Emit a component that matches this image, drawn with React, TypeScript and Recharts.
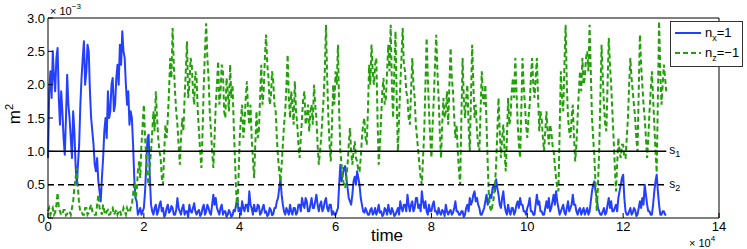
import { Legend, Line, LineChart, ReferenceLine, XAxis, YAxis } from "recharts";

// sample spacing of the time axis, in units of 10^4
const timeStep = 0.025;

// m^2 for n_x = 1, in units of 10^-3, one row per 10^4 of time
const nxValues = [
  0.9, 1.9, 2.2, 1.8, 2.5, 2.1, 1.9, 2.4, 2.55, 1.8, 1.4, 1.9, 1.6, 1.2, 0.95, 1.5, 2.15, 1.7, 1.5, 1.2, 0.9, 1.6, 1.3, 0.8, 0.5, 0.8, 1.1, 1.7, 2.1, 2.4, 2.65, 2.0, 2.2, 2.6, 2.5, 1.9, 1.5, 1.3, 1.1, 0.8,
  0.7, 0.9, 0.55, 0.4, 0.25, 0.6, 0.9, 1.3, 1.5, 1.2, 1.9, 1.5, 1.6, 2.0, 2.1, 1.6, 1.7, 2.1, 2.3, 2.0, 2.6, 2.3, 2.8, 2.5, 2.4, 2.0, 1.7, 1.9, 1.4, 1.6, 1.5, 1.1, 0.6, 0.3, 0.25, 0.05, 0.1, 0.15, 0.05, 0.1,
  0.15, 0.4, 0.8, 1.2, 1.25, 0.6, 0.2, 0.1, 0.05, 0.15, 0.2, 0.05, 0.1, 0.2, 0.25, 0.1, 0.15, 0.02, 0.05, 0.15, 0.2, 0.08, 0.1, 0.18, 0.15, 0.05, 0.05, 0.12, 0.3, 0.15, 0.1, 0.05, 0.15, 0.2, 0.05, 0.1, 0.1, 0.02, 0.2, 0.1,
  0.08, 0.15, 0.22, 0.1, 0.05, 0.1, 0.12, 0.03, 0.06, 0.15, 0.2, 0.05, 0.1, 0.2, 0.15, 0.08, 0.05, 0.2, 0.35, 0.2, 0.3, 0.15, 0.1, 0.05, 0.15, 0.2, 0.05, 0.1, 0.1, 0.02, 0.05, 0.12, 0.08, 0.02, 0.04, 0.12, 0.1, 0.2, 0.3, 0.1,
  0.15, 0.05, 0.25, 0.15, 0.1, 0.2, 0.2, 0.1, 0.4, 0.2, 0.15, 0.05, 0.2, 0.1, 0.1, 0.2, 0.18, 0.05, 0.08, 0.15, 0.2, 0.08, 0.1, 0.03, 0.05, 0.15, 0.12, 0.04, 0.06, 0.15, 0.15, 0.25, 0.3, 0.45, 0.58, 0.35, 0.2, 0.1, 0.05, 0.15,
  0.1, 0.05, 0.2, 0.1, 0.05, 0.15, 0.15, 0.05, 0.08, 0.2, 0.2, 0.1, 0.3, 0.2, 0.15, 0.3, 0.25, 0.1, 0.1, 0.2, 0.3, 0.15, 0.15, 0.25, 0.35, 0.2, 0.1, 0.2, 0.25, 0.1, 0.15, 0.25, 0.3, 0.15, 0.1, 0.2, 0.2, 0.05, 0.1, 0.05,
  0.05, 0.1, 0.15, 0.5, 0.8, 0.55, 0.65, 0.75, 0.78, 0.6, 0.45, 0.3, 0.25, 0.2, 0.35, 0.55, 0.62, 0.5, 0.7, 0.6, 0.5, 0.3, 0.2, 0.1, 0.08, 0.15, 0.1, 0.05, 0.05, 0.12, 0.15, 0.05, 0.08, 0.15, 0.05, 0.1, 0.2, 0.08, 0.1, 0.03,
  0.05, 0.15, 0.12, 0.05, 0.2, 0.1, 0.06, 0.15, 0.1, 0.03, 0.05, 0.1, 0.15, 0.05, 0.25, 0.15, 0.1, 0.2, 0.2, 0.1, 0.35, 0.2, 0.1, 0.2, 0.25, 0.1, 0.15, 0.3, 0.3, 0.15, 0.2, 0.1, 0.4, 0.25, 0.15, 0.25, 0.1, 0.05, 0.2, 0.1,
  0.1, 0.2, 0.25, 0.1, 0.1, 0.05, 0.15, 0.08, 0.05, 0.12, 0.1, 0.03, 0.2, 0.1, 0.05, 0.1, 0.12, 0.05, 0.08, 0.15, 0.25, 0.1, 0.1, 0.05, 0.05, 0.1, 0.1, 0.02, 0.05, 0.15, 0.2, 0.1, 0.3, 0.2, 0.25, 0.35, 0.4, 0.25, 0.3, 0.2,
  0.15, 0.05, 0.05, 0.1, 0.15, 0.25, 0.35, 0.2, 0.25, 0.35, 0.3, 0.45, 0.5, 0.4, 0.58, 0.45, 0.35, 0.2, 0.15, 0.3, 0.4, 0.2, 0.1, 0.05, 0.2, 0.1, 0.05, 0.15, 0.15, 0.05, 0.1, 0.2, 0.25, 0.15, 0.3, 0.2, 0.2, 0.1, 0.1, 0.05,
  0.15, 0.2, 0.3, 0.1, 0.1, 0.05, 0.05, 0.2, 0.35, 0.2, 0.25, 0.1, 0.1, 0.05, 0.05, 0.15, 0.25, 0.15, 0.3, 0.1, 0.15, 0.25, 0.35, 0.2, 0.4, 0.25, 0.15, 0.05, 0.1, 0.15, 0.2, 0.08, 0.05, 0.15, 0.25, 0.1, 0.15, 0.2, 0.35, 0.2,
  0.2, 0.1, 0.05, 0.12, 0.15, 0.05, 0.1, 0.15, 0.05, 0.1, 0.15, 0.05, 0.1, 0.25, 0.4, 0.5, 0.55, 0.4, 0.3, 0.15, 0.1, 0.05, 0.05, 0.1, 0.15, 0.05, 0.08, 0.2, 0.3, 0.15, 0.25, 0.1, 0.1, 0.15, 0.2, 0.1, 0.3, 0.4, 0.5, 0.6,
  0.65, 0.3, 0.1, 0.05, 0.05, 0.1, 0.15, 0.05, 0.08, 0.15, 0.12, 0.03, 0.05, 0.15, 0.25, 0.15, 0.3, 0.2, 0.5, 0.35, 0.2, 0.1, 0.1, 0.05, 0.05, 0.2, 0.4, 0.55, 0.65, 0.4, 0.2, 0.05, 0.05, 0.1, 0.1, 0.05, 0.05
];

// m^2 for n_z = -1, in units of 10^-3
const nzValues = [
  0.1, 0.15, 0.05, 0.1, 0.15, 0.05, 0.08, 0.2, 0.38, 0.15, 0.1, 0.05, 0.05, 0.12, 0.12, 0.04, 0.06, 0.1, 0.1, 0.05, 0.15, 0.25, 0.45, 0.6, 0.75, 0.45, 0.2, 0.1, 0.1, 0.05, 0.05, 0.15, 0.15, 0.05, 0.08, 0.15, 0.2, 0.1, 0.1, 0.05,
  0.05, 0.2, 0.35, 0.15, 0.1, 0.05, 0.2, 0.1, 0.05, 0.1, 0.12, 0.05, 0.06, 0.12, 0.15, 0.05, 0.08, 0.12, 0.05, 0.1, 0.12, 0.05, 0.06, 0.15, 0.1, 0.05, 0.15, 0.1, 0.08, 0.15, 0.2, 0.35, 0.55, 0.3, 0.4, 0.7, 0.85, 0.6, 1.1, 1.4,
  1.7, 1.2, 0.9, 0.6, 0.5, 0.8, 1.0, 1.3, 1.6, 1.3, 1.9, 1.5, 1.2, 1.0, 0.9, 0.6, 0.5, 1.0, 1.4, 1.2, 1.5, 1.9, 2.4, 2.1, 2.85, 2.3, 1.9, 1.6, 1.4, 1.1, 0.8, 1.2, 1.5, 1.3, 1.8, 2.2, 2.65, 1.8, 2.0, 2.4,
  2.3, 1.9, 1.7, 2.2, 2.1, 1.6, 1.3, 1.0, 0.75, 1.3, 2.0, 2.5, 2.92, 2.4, 2.1, 1.6, 1.3, 1.0, 0.75, 1.2, 1.7, 2.0, 2.35, 1.7, 1.9, 2.3, 2.2, 1.6, 1.5, 2.1, 1.9, 1.6, 2.3, 1.8, 2.0, 1.4, 0.9, 0.4, 0.15, 0.6,
  1.2, 1.5, 1.7, 1.2, 1.4, 1.8, 2.05, 1.6, 1.4, 1.7, 1.2, 0.9, 0.6, 1.1, 1.6, 1.2, 1.3, 1.8, 2.3, 1.7, 1.9, 2.4, 2.75, 2.3, 2.1, 1.7, 1.8, 2.2, 2.05, 1.7, 1.6, 1.2, 0.9, 0.7, 0.55, 0.8, 1.1, 1.4, 1.6, 2.0,
  2.45, 1.8, 1.5, 1.9, 1.7, 1.4, 2.05, 1.6, 1.4, 1.1, 0.9, 1.2, 1.5, 1.8, 1.9, 1.4, 1.5, 1.7, 1.3, 1.6, 1.7, 1.4, 2.0, 1.7, 1.5, 1.1, 0.8, 1.0, 1.2, 1.5, 1.8, 2.2, 2.9, 2.1, 1.5, 1.1, 0.85, 1.4, 2.0, 1.7,
  2.2, 2.0, 2.6, 1.6, 1.0, 0.8, 0.6, 0.5, 0.45, 0.6, 0.8, 1.1, 1.35, 1.0, 0.8, 1.0, 1.15, 0.9, 0.85, 0.7, 0.7, 0.9, 1.2, 1.4, 1.5, 1.2, 1.1, 1.6, 2.3, 2.0, 2.6, 2.2, 2.0, 2.3, 2.4, 1.5, 0.8, 1.1, 1.5, 1.9,
  2.1, 1.7, 1.8, 2.2, 2.6, 2.2, 2.9, 2.0, 1.5, 2.2, 2.8, 1.8, 1.0, 1.5, 2.0, 2.4, 2.85, 2.3, 2.2, 1.9, 1.8, 1.5, 1.4, 1.9, 2.4, 2.0, 1.8, 1.4, 1.2, 1.0, 0.8, 0.6, 0.5, 0.9, 1.3, 2.0, 2.7, 2.1, 1.6, 1.2,
  0.9, 1.4, 1.8, 2.3, 2.75, 2.2, 1.8, 1.3, 0.9, 1.4, 1.8, 1.5, 1.6, 1.9, 1.4, 2.0, 2.55, 2.1, 1.9, 1.5, 1.2, 1.4, 1.0, 0.7, 0.5, 1.5, 2.4, 1.8, 1.5, 1.8, 2.0, 1.4, 1.0, 1.8, 2.6, 2.0, 1.5, 1.7, 1.3, 1.1,
  1.0, 1.6, 2.2, 1.8, 1.7, 2.0, 1.4, 0.8, 0.3, 0.15, 0.1, 0.2, 0.3, 0.5, 0.8, 1.3, 1.8, 1.3, 0.9, 1.2, 1.4, 1.0, 0.7, 1.2, 1.8, 1.4, 1.5, 1.9, 2.1, 1.8, 2.4, 1.9, 1.4, 1.1, 0.9, 1.6, 2.4, 2.0, 1.7, 1.4,
  1.2, 1.5, 1.7, 2.1, 2.4, 2.0, 1.8, 2.1, 2.4, 1.8, 1.3, 1.6, 1.5, 1.2, 1.0, 1.3, 1.6, 1.3, 1.1, 1.4, 1.3, 1.1, 1.0, 0.8, 0.6, 0.45, 0.4, 1.3, 2.2, 1.8, 1.6, 2.3, 2.9, 2.0, 1.5, 1.3, 1.2, 1.5, 1.7, 1.2,
  0.85, 1.1, 1.5, 1.9, 2.2, 1.9, 2.4, 2.0, 2.1, 2.4, 2.5, 2.2, 2.9, 2.2, 1.5, 1.2, 0.9, 0.5, 0.1, 0.5, 1.0, 1.8, 2.6, 2.1, 1.7, 1.4, 1.3, 2.0, 2.7, 2.3, 2.0, 1.6, 1.2, 0.8, 0.4, 0.8, 1.2, 1.0, 0.9, 1.1,
  1.1, 0.9, 0.9, 1.2, 1.5, 2.0, 2.4, 2.1, 1.9, 1.7, 1.5, 1.2, 1.0, 1.9, 2.75, 2.3, 2.0, 1.7, 1.5, 1.2, 0.9, 1.2, 1.6, 1.9, 2.2, 1.8, 1.4, 1.0, 0.68, 1.8, 2.95, 2.2, 1.7, 2.0, 2.3, 2.1, 1.9
];

const xTicks = [0, 2, 4, 6, 8, 10, 12, 14];
const yTicks = [0, 0.5, 1, 1.5, 2, 2.5, 3];

const s1Level = 1.0;
const s2Level = 0.5;
const thresholdEnd = 12.9;

const chartData = nxValues.map((value, index) => ({
  time: Number((index * timeStep).toFixed(3)),
  nx: value,
  nz: nzValues[index]
}));

const fontFamily = '"Liberation Sans", Arial, Helvetica, sans-serif';
const blue = "#2340ff";
const green = "#22a00a";

function formatYTick(value: number) {
  return value === 0 ? "0" : value.toFixed(1);
}

function ThresholdLabel({ viewBox, index }: { viewBox?: any; index: string }) {
  if (!viewBox) return null;
  const x = viewBox.x + viewBox.width + 3;
  const y = viewBox.y + 3;
  return (
    <text x={x} y={y} fontSize={12} fontFamily={fontFamily} fill="#000">
      s
      <tspan fontSize={9} dy={3}>
        {index}
      </tspan>
    </text>
  );
}

function LegendBox() {
  return (
    <svg width={73} height={46} style={{ display: "block" }}>
      <rect x={0.5} y={0.5} width={72} height={45} fill="#fff" stroke="#333" />
      <line x1={5} x2={31} y1={12} y2={12} stroke={blue} strokeWidth={2} />
      <text x={35} y={16} fontSize={13} fontFamily={fontFamily} fill="#000">
        n
        <tspan fontSize={9} dy={4}>
          x
        </tspan>
        <tspan dy={-4}>=1</tspan>
      </text>
      <line
        x1={5}
        x2={31}
        y1={32}
        y2={32}
        stroke={green}
        strokeWidth={2}
        strokeDasharray="5 3"
      />
      <text x={35} y={36} fontSize={13} fontFamily={fontFamily} fill="#000">
        n
        <tspan fontSize={9} dy={4}>
          z
        </tspan>
        <tspan dy={-4}>=−1</tspan>
      </text>
    </svg>
  );
}

export default function App() {
  return (
    <div
      style={{
        position: "absolute",
        left: 0,
        top: 0,
        width: 747,
        height: 249,
        background: "#fff",
        fontFamily
      }}
    >
      <LineChart
        width={747}
        height={249}
        data={chartData}
        margin={{ top: 17, right: 27, bottom: 30, left: 47 }}
      >
        <XAxis
          dataKey="time"
          type="number"
          domain={[0, 14]}
          ticks={xTicks}
          height={1}
          tickSize={-5}
          tickMargin={9}
          stroke="#000"
          tick={{ fill: "#000", fontSize: 13 }}
          interval={0}
        />
        <XAxis
          xAxisId="top"
          orientation="top"
          dataKey="time"
          type="number"
          domain={[0, 14]}
          ticks={xTicks}
          height={1}
          tickSize={-5}
          stroke="#000"
          tick={false}
        />
        <YAxis
          type="number"
          domain={[0, 3]}
          ticks={yTicks}
          width={1}
          tickSize={-5}
          tickMargin={8}
          stroke="#000"
          tick={{ fill: "#000", fontSize: 13 }}
          tickFormatter={formatYTick}
          interval={0}
        />
        <YAxis
          yAxisId="right"
          orientation="right"
          type="number"
          domain={[0, 3]}
          ticks={yTicks}
          width={1}
          tickSize={-5}
          stroke="#000"
          tick={false}
        />
        <Line
          dataKey="nx"
          stroke={blue}
          strokeWidth={2}
          dot={false}
          isAnimationActive={false}
          strokeLinejoin="round"
        />
        <Line
          dataKey="nz"
          stroke={green}
          strokeWidth={2}
          strokeDasharray="5 3"
          dot={false}
          isAnimationActive={false}
        />
        <ReferenceLine
          segment={[
            { x: 0, y: s1Level },
            { x: thresholdEnd, y: s1Level }
          ]}
          stroke="#000"
          strokeWidth={1.5}
          label={(props: any) => <ThresholdLabel viewBox={props.viewBox} index="1" />}
        />
        <ReferenceLine
          segment={[
            { x: 0, y: s2Level },
            { x: thresholdEnd, y: s2Level }
          ]}
          stroke="#000"
          strokeWidth={1.5}
          strokeDasharray="6 4"
          label={(props: any) => <ThresholdLabel viewBox={props.viewBox} index="2" />}
        />
        <Legend
          layout="vertical"
          align="center"
          verticalAlign="middle"
          content={() => <LegendBox />}
          wrapperStyle={{ position: "absolute", left: 670, top: 21, width: 73, height: 46 }}
        />
      </LineChart>

      <svg
        width={747}
        height={249}
        style={{ position: "absolute", left: 0, top: 0, pointerEvents: "none" }}
      >
        <text x={50} y={15} fontSize={11} fontFamily={fontFamily} fill="#000">
          × 10
          <tspan fontSize={8} dy={-6}>
            −3
          </tspan>
        </text>
        <text
          x={20}
          y={114}
          fontSize={17}
          fontFamily={fontFamily}
          fill="#000"
          textAnchor="middle"
          transform="rotate(-90 20 114)"
        >
          m
          <tspan fontSize={11} dy={-7}>
            2
          </tspan>
        </text>
        <text x={387} y={241} fontSize={17} fontFamily={fontFamily} fill="#000" textAnchor="middle">
          time
        </text>
        <text x={689} y={247} fontSize={11} fontFamily={fontFamily} fill="#000">
          × 10
          <tspan fontSize={8} dy={-6}>
            4
          </tspan>
        </text>
      </svg>
    </div>
  );
}
